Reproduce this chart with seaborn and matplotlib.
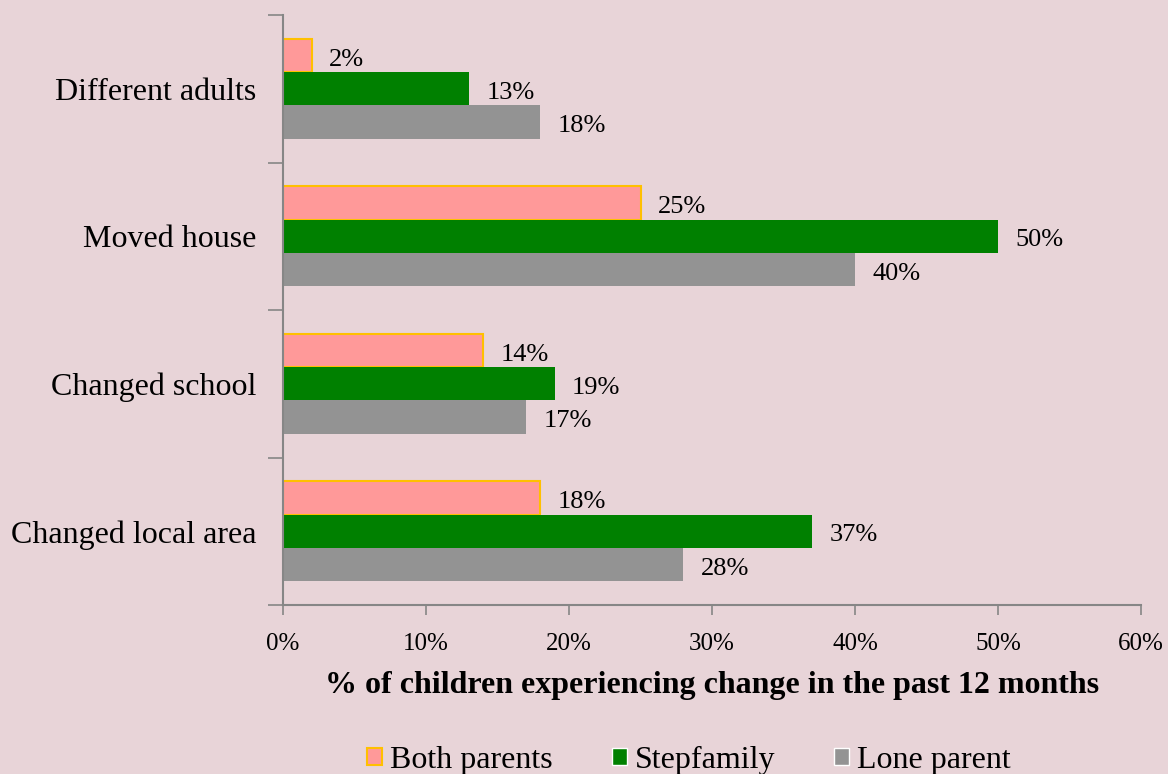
import matplotlib
matplotlib.use('Agg')
import matplotlib.pyplot as plt
from matplotlib.patches import Patch
from matplotlib.ticker import FixedLocator
import seaborn as sns
import pandas as pd

# Data
changes = ['Different adults', 'Moved house', 'Changed school', 'Changed local area']
families = ['Both parents', 'Stepfamily', 'Lone parent']
both_parents = [2, 25, 14, 18]
stepfamily = [13, 50, 19, 37]
lone_parent = [18, 40, 17, 28]
x_ticks = [0, 10, 20, 30, 40, 50, 60]

colors = ['#FF9999', '#008000', '#939393']
bg = '#E8D4D8'

rows = []
for fam, vals in zip(families, [both_parents, stepfamily, lone_parent]):
    for ch, v in zip(changes, vals):
        rows.append({'change': ch, 'family': fam, 'pct': v})
df = pd.DataFrame(rows)

sns.set_style('white')
plt.rcParams['font.family'] = ['Liberation Serif', 'DejaVu Serif']
plt.rcParams['text.color'] = 'black'
plt.rcParams['axes.labelcolor'] = 'black'
plt.rcParams['xtick.color'] = 'black'
plt.rcParams['ytick.color'] = 'black'
plt.rcParams['xtick.bottom'] = True
plt.rcParams['ytick.left'] = True

fig = plt.figure(figsize=(11.68, 7.74), dpi=100, facecolor=bg)
ax = fig.add_axes([0.2423, 0.2183, 0.7346, 0.7623])
ax.set_facecolor(bg)

sns.barplot(data=df, y='change', x='pct', hue='family', order=changes,
            hue_order=families, palette=colors, orient='h', width=0.68,
            saturation=1, ax=ax, legend=False, edgecolor='none', linewidth=0)

for bar in ax.containers[0]:
    bar.set_edgecolor('#FFC000')
    bar.set_linewidth(1.5)

for cont in ax.containers:
    labels = ax.bar_label(cont, fmt='%d%%', padding=12.5, fontsize=19, color='black')
    for t in labels:
        t.xyann = (12.5, -3)

ax.set_xlim(0, 60)
ax.set_ylim(3.5, -0.5)
ax.set_xticks(x_ticks)
ax.set_xticklabels([f'{t}%' for t in x_ticks], fontsize=18)
ax.tick_params(axis='x', direction='out', length=7, color='#868686', pad=13)
ax.tick_params(axis='y', which='major', length=0, labelsize=23, pad=19)
ax.yaxis.set_minor_locator(FixedLocator([-0.5, 0.5, 1.5, 2.5, 3.5]))
ax.tick_params(axis='y', which='minor', direction='out', length=11,
               color='#868686', width=1.2)
ax.tick_params(axis='x', width=1.2)

ax.set_ylabel('')
ax.set_xlabel('% of children experiencing change in the past 12 months',
              fontsize=23, fontweight='bold', labelpad=12)

for side in ['top', 'right']:
    ax.spines[side].set_visible(False)
for side in ['left', 'bottom']:
    ax.spines[side].set_color('#868686')
    ax.spines[side].set_linewidth(1.5)

handles = [Patch(facecolor=colors[0], edgecolor='#FFC000', linewidth=1.5),
           Patch(facecolor=colors[1]), Patch(facecolor=colors[2])]
fig.legend(handles, families, loc='lower center', bbox_to_anchor=(0.59, -0.038),
           ncol=3, frameon=False, fontsize=23, handlelength=0.47,
           handleheight=0.47, handletextpad=0.25, columnspacing=1.85)

fig.savefig('out.png', dpi=100, facecolor=bg)
